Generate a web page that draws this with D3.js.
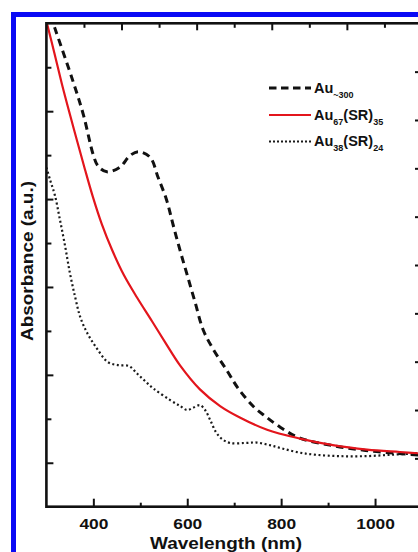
<!DOCTYPE html>
<html>
<head>
<meta charset="utf-8">
<script src="https://cdn.jsdelivr.net/npm/d3@7"></script>
<style>
  html, body { margin: 0; padding: 0; background: #fff; overflow: hidden; }
  svg { display: block; font-family: "Liberation Sans", Arial, Helvetica, sans-serif; }
</style>
</head>
<body>
<script>
// UV-vis absorption spectra (arbitrary units) of gold nanoclusters
const au300Nm  = [300, 318, 357, 379, 400, 410, 429, 457, 478, 496, 521, 538, 556, 570, 585, 600, 617, 634, 656, 685, 708, 741, 766, 798, 840, 910, 980, 1050, 1100];
const au300Abs = [11.45, 10.89, 9.67, 8.91, 8.00, 7.75, 7.62, 7.73, 7.99, 8.08, 7.95, 7.49, 6.98, 6.41, 5.82, 5.27, 4.64, 4.02, 3.57, 3.09, 2.70, 2.28, 2.06, 1.81, 1.56, 1.39, 1.28, 1.21, 1.17];

const au67Nm  = [300, 318, 333, 350, 365, 382, 399, 418, 440, 465, 493, 525, 553, 585, 627, 670, 712, 770, 840, 910, 983, 1053, 1100];
const au67Abs = [11.05, 10.28, 9.62, 8.93, 8.34, 7.68, 7.05, 6.43, 5.84, 5.27, 4.76, 4.22, 3.74, 3.21, 2.67, 2.29, 2.03, 1.75, 1.55, 1.40, 1.30, 1.245, 1.21];

const au38Nm  = [300, 308, 318, 329, 340, 350, 361, 372, 387, 407, 431, 453, 476, 493, 510, 528, 563, 585, 600, 612, 627, 638, 649, 661, 674, 691, 723, 748, 776, 804, 840, 876, 925, 979, 1032, 1081, 1100];
const au38Abs = [7.72, 7.43, 7.09, 6.52, 5.92, 5.32, 4.78, 4.32, 3.95, 3.61, 3.29, 3.22, 3.20, 3.03, 2.86, 2.69, 2.43, 2.29, 2.20, 2.25, 2.31, 2.20, 1.97, 1.70, 1.54, 1.45, 1.45, 1.46, 1.40, 1.32, 1.23, 1.18, 1.15, 1.15, 1.18, 1.21, 1.22];

// tick positions
const xMajorTicks = [400, 600, 800, 1000];
const xMinorTicks = [500, 700, 900];
const topLongTicks  = [460, 620, 780, 940];
const topShortTicks = [380, 540, 700, 860, 1020];
const yMajorTicks = [1, 3, 5, 7, 9];
const yMinorTicks = [2, 4, 6, 8, 10];
const rightTicks  = [1, 2, 3, 4, 5, 6, 7, 8, 9];

const W = 418, H = 552;
const plot = { left: 46.4, right: 422, top: 23.3, bottom: 506.7 };

const svg = d3.select("body").append("svg")
  .attr("width", W).attr("height", H);

svg.append("rect").attr("width", W).attr("height", H).attr("fill", "#fff");

// blue frame around the figure
svg.append("rect")
  .attr("x", 13.5).attr("y", 14.5)
  .attr("width", 500).attr("height", 600)
  .attr("fill", "none").attr("stroke", "#0a0af5").attr("stroke-width", 5);

const x = d3.scaleLinear().domain([300, 1100]).range([plot.left, plot.right]);
const y = d3.scaleLinear().domain([0, 11]).range([plot.bottom, plot.top]);
const yRight = d3.scaleLinear().domain([0, 10]).range([plot.bottom, plot.top]);

svg.append("defs").append("clipPath").attr("id", "plotClip")
  .append("rect")
  .attr("x", plot.left).attr("y", plot.top)
  .attr("width", plot.right - plot.left).attr("height", plot.bottom - plot.top);

const line = d3.line()
  .x(d => x(d[0])).y(d => y(d[1]))
  .curve(d3.curveCatmullRom.alpha(0.5));

const curves = svg.append("g").attr("clip-path", "url(#plotClip)");

curves.append("path")
  .datum(d3.zip(au38Nm, au38Abs))
  .attr("d", line)
  .attr("fill", "none").attr("stroke", "#1a1a1a")
  .attr("stroke-width", 2.2).attr("stroke-dasharray", "2,2.6");

curves.append("path")
  .datum(d3.zip(au300Nm, au300Abs))
  .attr("d", line)
  .attr("fill", "none").attr("stroke", "#111")
  .attr("stroke-width", 3).attr("stroke-dasharray", "7.5,5");

curves.append("path")
  .datum(d3.zip(au67Nm, au67Abs))
  .attr("d", line)
  .attr("fill", "none").attr("stroke", "#e3151c")
  .attr("stroke-width", 2.2);

// axes
function styleAxis(g) {
  g.select(".domain").remove();
  g.selectAll(".tick line").attr("stroke", "#111").attr("stroke-width", 2);
}

svg.append("g")
  .attr("transform", `translate(0,${plot.bottom})`)
  .call(d3.axisBottom(x).tickValues(xMajorTicks).tickSize(-8).tickPadding(11.5).tickFormat(d3.format("d")))
  .call(styleAxis)
  .call(g => g.selectAll(".tick text")
    .attr("fill", "#111")
    .attr("font-size", 15.5).attr("font-weight", "bold")
    .attr("font-family", "'Liberation Sans', Arial, sans-serif")
    .attr("transform", "scale(1.12,1)"));

svg.append("g")
  .attr("transform", `translate(0,${plot.bottom})`)
  .call(d3.axisBottom(x).tickValues(xMinorTicks).tickSize(-4).tickFormat(""))
  .call(styleAxis);

svg.append("g")
  .attr("transform", `translate(0,${plot.top})`)
  .call(d3.axisTop(x).tickValues(topLongTicks).tickSize(-7).tickFormat(""))
  .call(styleAxis);

svg.append("g")
  .attr("transform", `translate(0,${plot.top})`)
  .call(d3.axisTop(x).tickValues(topShortTicks).tickSize(-4.5).tickFormat(""))
  .call(styleAxis);

svg.append("g")
  .attr("transform", `translate(${plot.left},0)`)
  .call(d3.axisLeft(y).tickValues(yMajorTicks).tickSize(-7).tickFormat(""))
  .call(styleAxis);

svg.append("g")
  .attr("transform", `translate(${plot.left},0)`)
  .call(d3.axisLeft(y).tickValues(yMinorTicks).tickSize(-5).tickFormat(""))
  .call(styleAxis);

svg.append("g")
  .attr("transform", `translate(${plot.right},0)`)
  .call(d3.axisRight(yRight).tickValues(rightTicks).tickSize(-7).tickFormat(""))
  .call(styleAxis);

// plot frame
svg.append("rect")
  .attr("x", plot.left).attr("y", plot.top)
  .attr("width", plot.right - plot.left).attr("height", plot.bottom - plot.top)
  .attr("fill", "none").attr("stroke", "#111").attr("stroke-width", 2.6);

// axis titles
svg.append("text")
  .attr("x", 226).attr("y", 548.5)
  .attr("text-anchor", "middle")
  .attr("font-size", 16.5).attr("font-weight", "bold").attr("fill", "#111")
  .attr("textLength", 152).attr("lengthAdjust", "spacingAndGlyphs")
  .text("Wavelength (nm)");

svg.append("text")
  .attr("transform", "translate(32.5,261) rotate(-90)")
  .attr("text-anchor", "middle")
  .attr("font-size", 16).attr("font-weight", "bold").attr("fill", "#111")
  .attr("textLength", 160).attr("lengthAdjust", "spacingAndGlyphs")
  .text("Absorbance (a.u.)");

// legend
const legendItems = [
  { y: 88,    base: 93.3,  stroke: "#111",    width: 3,   dash: "7.5,4.5", parts: [["Au", false], ["~300", true]] },
  { y: 115,   base: 119.5, stroke: "#e3151c", width: 2.2, dash: null,      parts: [["Au", false], ["67", true], ["(SR)", false], ["35", true]] },
  { y: 141.5, base: 146,   stroke: "#1a1a1a", width: 2,   dash: "2,2",     parts: [["Au", false], ["38", true], ["(SR)", false], ["24", true]] }
];

const legend = svg.append("g");
legendItems.forEach(item => {
  legend.append("line")
    .attr("x1", 269).attr("x2", 311)
    .attr("y1", item.y).attr("y2", item.y)
    .attr("stroke", item.stroke).attr("stroke-width", item.width)
    .attr("stroke-dasharray", item.dash);
  const t = legend.append("text")
    .attr("x", 314).attr("y", item.base)
    .attr("font-weight", "bold").attr("fill", "#111");
  item.parts.forEach(([s, sub]) => {
    t.append("tspan")
      .attr("font-size", sub ? 9 : 14.5)
      .attr("baseline-shift", sub ? "-5" : null)
      .text(s);
  });
});
</script>
</body>
</html>
